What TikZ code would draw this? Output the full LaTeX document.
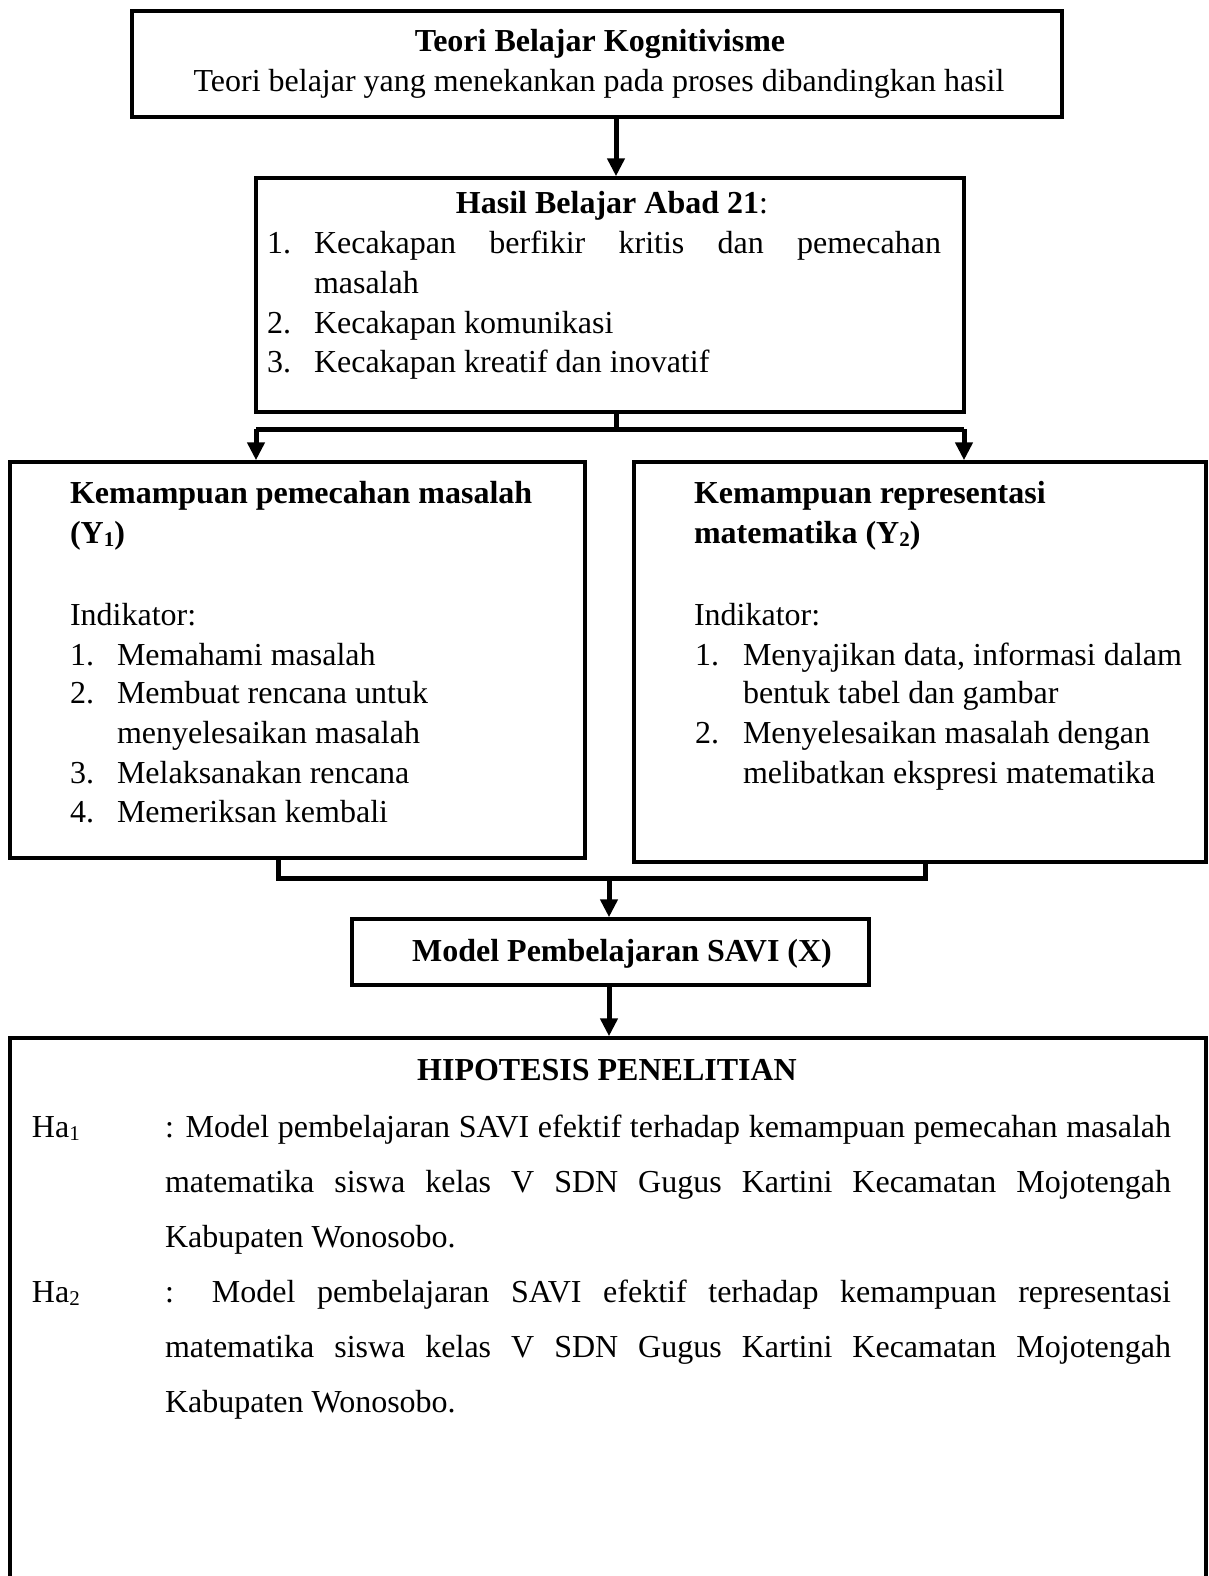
\documentclass[tikz,border=0pt]{standalone}
\usepackage{fontspec}
\setmainfont{Liberation Serif}
\usetikzlibrary{arrows.meta}
\newcommand\mysub[1]{\raisebox{-0.1em}{\fontsize{10.5pt}{12pt}\selectfont #1}}
\begin{document}
\begin{tikzpicture}[x=0.5pt,y=-0.5pt,
  box/.style={draw, line width=1.75pt, inner sep=0},
  txt/.style={inner sep=0, outer sep=0, anchor=base west},
  ctxt/.style={inner sep=0, outer sep=0, anchor=base},
  conn/.style={line width=2.5pt, line join=miter},
  arr/.style={conn, -{Triangle[length=9pt,width=8.5pt]}},
  font=\fontsize{16pt}{18.4pt}\selectfont]
\useasboundingbox (0,0) rectangle (1209,1576);
\clip (0,0) rectangle (1209,1576);
% boxes
\node[box, line width=2pt, minimum width=465pt, minimum height=53pt] (top) at (597,64) {};
\node[box, minimum width=354pt, minimum height=117pt] (hasil) at (610,295) {};
\node[box, minimum width=287.5pt, minimum height=198pt] (left) at (297.5,660) {};
\node[box, minimum width=286pt, minimum height=200pt] (right) at (920,662) {};
\node[box, minimum width=258.5pt, minimum height=33pt] (savi) at (610.5,952) {};
\node[box, minimum width=598pt, minimum height=331pt] (hyp) at (608,1369) {};
% connector helper coordinates
\coordinate (ca) at (616,0);
\coordinate (cb) at (609,0);
\coordinate (jn) at (0,429);
\coordinate (jl) at (256,0);
\coordinate (jr) at (964,0);
\coordinate (bl) at (278,0);
\coordinate (br) at (925,0);
\coordinate (bj) at (0,878);
% connectors
\draw[arr] (ca |- top.south) -- (ca |- hasil.north);
\draw[conn] (ca |- hasil.south) -- (ca |- jn);
\draw[conn] (jl |- jn) -- (jr |- jn);
\draw[arr] (jl |- jn) -- (jl |- left.north);
\draw[arr] (jr |- jn) -- (jr |- right.north);
\draw[conn] (bl |- left.south) -- (bl |- bj) -- (br |- bj) -- (br |- right.south);
\draw[arr] (cb |- bj) -- (cb |- savi.north);
\draw[arr] (cb |- savi.south) -- (cb |- hyp.north);
% top box text
\node[ctxt] (t1) at (600,51) {\textbf{Teori Belajar Kognitivisme}};
\node[ctxt] (t2) at (599,91) {Teori belajar yang menekankan pada proses dibandingkan hasil};
% hasil box text
\node[ctxt] (h0) at (612,213) {\textbf{Hasil Belajar Abad 21}:};
\node[txt] (h1n) at (267,253) {1.};
\node[txt] (h1) at (314,253) {\makebox[313.5pt][s]{Kecakapan berfikir kritis dan pemecahan}};
\node[txt] (h1b) at (314,293) {masalah};
\node[txt] (h2n) at (267,333) {2.};
\node[txt] (h2) at (314,333) {Kecakapan komunikasi};
\node[txt] (h3n) at (267,372) {3.};
\node[txt] (h3) at (314,372) {Kecakapan kreatif dan inovatif};
% left box text
\node[txt] (l0) at (70,503) {\textbf{Kemampuan pemecahan masalah}};
\node[txt] (l0b) at (70,543) {\textbf{(Y\mysub{1})}};
\node[txt] (li) at (70,625) {Indikator:};
\node[txt] (l1n) at (70,665) {1.};
\node[txt] (l1) at (117,665) {Memahami masalah};
\node[txt] (l2n) at (70,703) {2.};
\node[txt] (l2) at (117,703) {Membuat rencana untuk};
\node[txt] (l2b) at (117,743) {menyelesaikan masalah};
\node[txt] (l3n) at (70,783) {3.};
\node[txt] (l3) at (117,783) {Melaksanakan rencana};
\node[txt] (l4n) at (70,822) {4.};
\node[txt] (l4) at (117,822) {Memeriksan kembali};
% right box text
\node[txt] (r0) at (694,503) {\textbf{Kemampuan representasi}};
\node[txt] (r0b) at (694,543) {\textbf{matematika (Y\mysub{2})}};
\node[txt] (ri) at (694,625) {Indikator:};
\node[txt] (r1n) at (695,665) {1.};
\node[txt] (r1) at (743,665) {Menyajikan data, informasi dalam};
\node[txt] (r1b) at (743,703) {bentuk tabel dan gambar};
\node[txt] (r2n) at (695,743) {2.};
\node[txt] (r2) at (743,743) {Menyelesaikan masalah dengan};
\node[txt] (r2b) at (743,783) {melibatkan ekspresi matematika};
% savi
\node[ctxt] (s0) at (622,961) {\textbf{Model Pembelajaran SAVI (X)}};
% hypotheses
\node[ctxt] (p0) at (607,1080) {\textbf{HIPOTESIS PENELITIAN}};
\node[txt] (a1) at (32,1137) {Ha\mysub{1}};
\node[txt] (a1l1) at (165,1137) {\makebox[503pt][s]{: Model pembelajaran SAVI efektif terhadap kemampuan pemecahan masalah}};
\node[txt] (a1l2) at (165,1192) {\makebox[503pt][s]{matematika siswa kelas V SDN Gugus Kartini Kecamatan Mojotengah}};
\node[txt] (a1l3) at (165,1247) {Kabupaten Wonosobo.};
\node[txt] (a2) at (32,1302) {Ha\mysub{2}};
\node[txt] (a2l1) at (165,1302) {\makebox[503pt][s]{: Model pembelajaran SAVI efektif terhadap kemampuan representasi}};
\node[txt] (a2l2) at (165,1357) {\makebox[503pt][s]{matematika siswa kelas V SDN Gugus Kartini Kecamatan Mojotengah}};
\node[txt] (a2l3) at (165,1412) {Kabupaten Wonosobo.};
\end{tikzpicture}
\end{document}
